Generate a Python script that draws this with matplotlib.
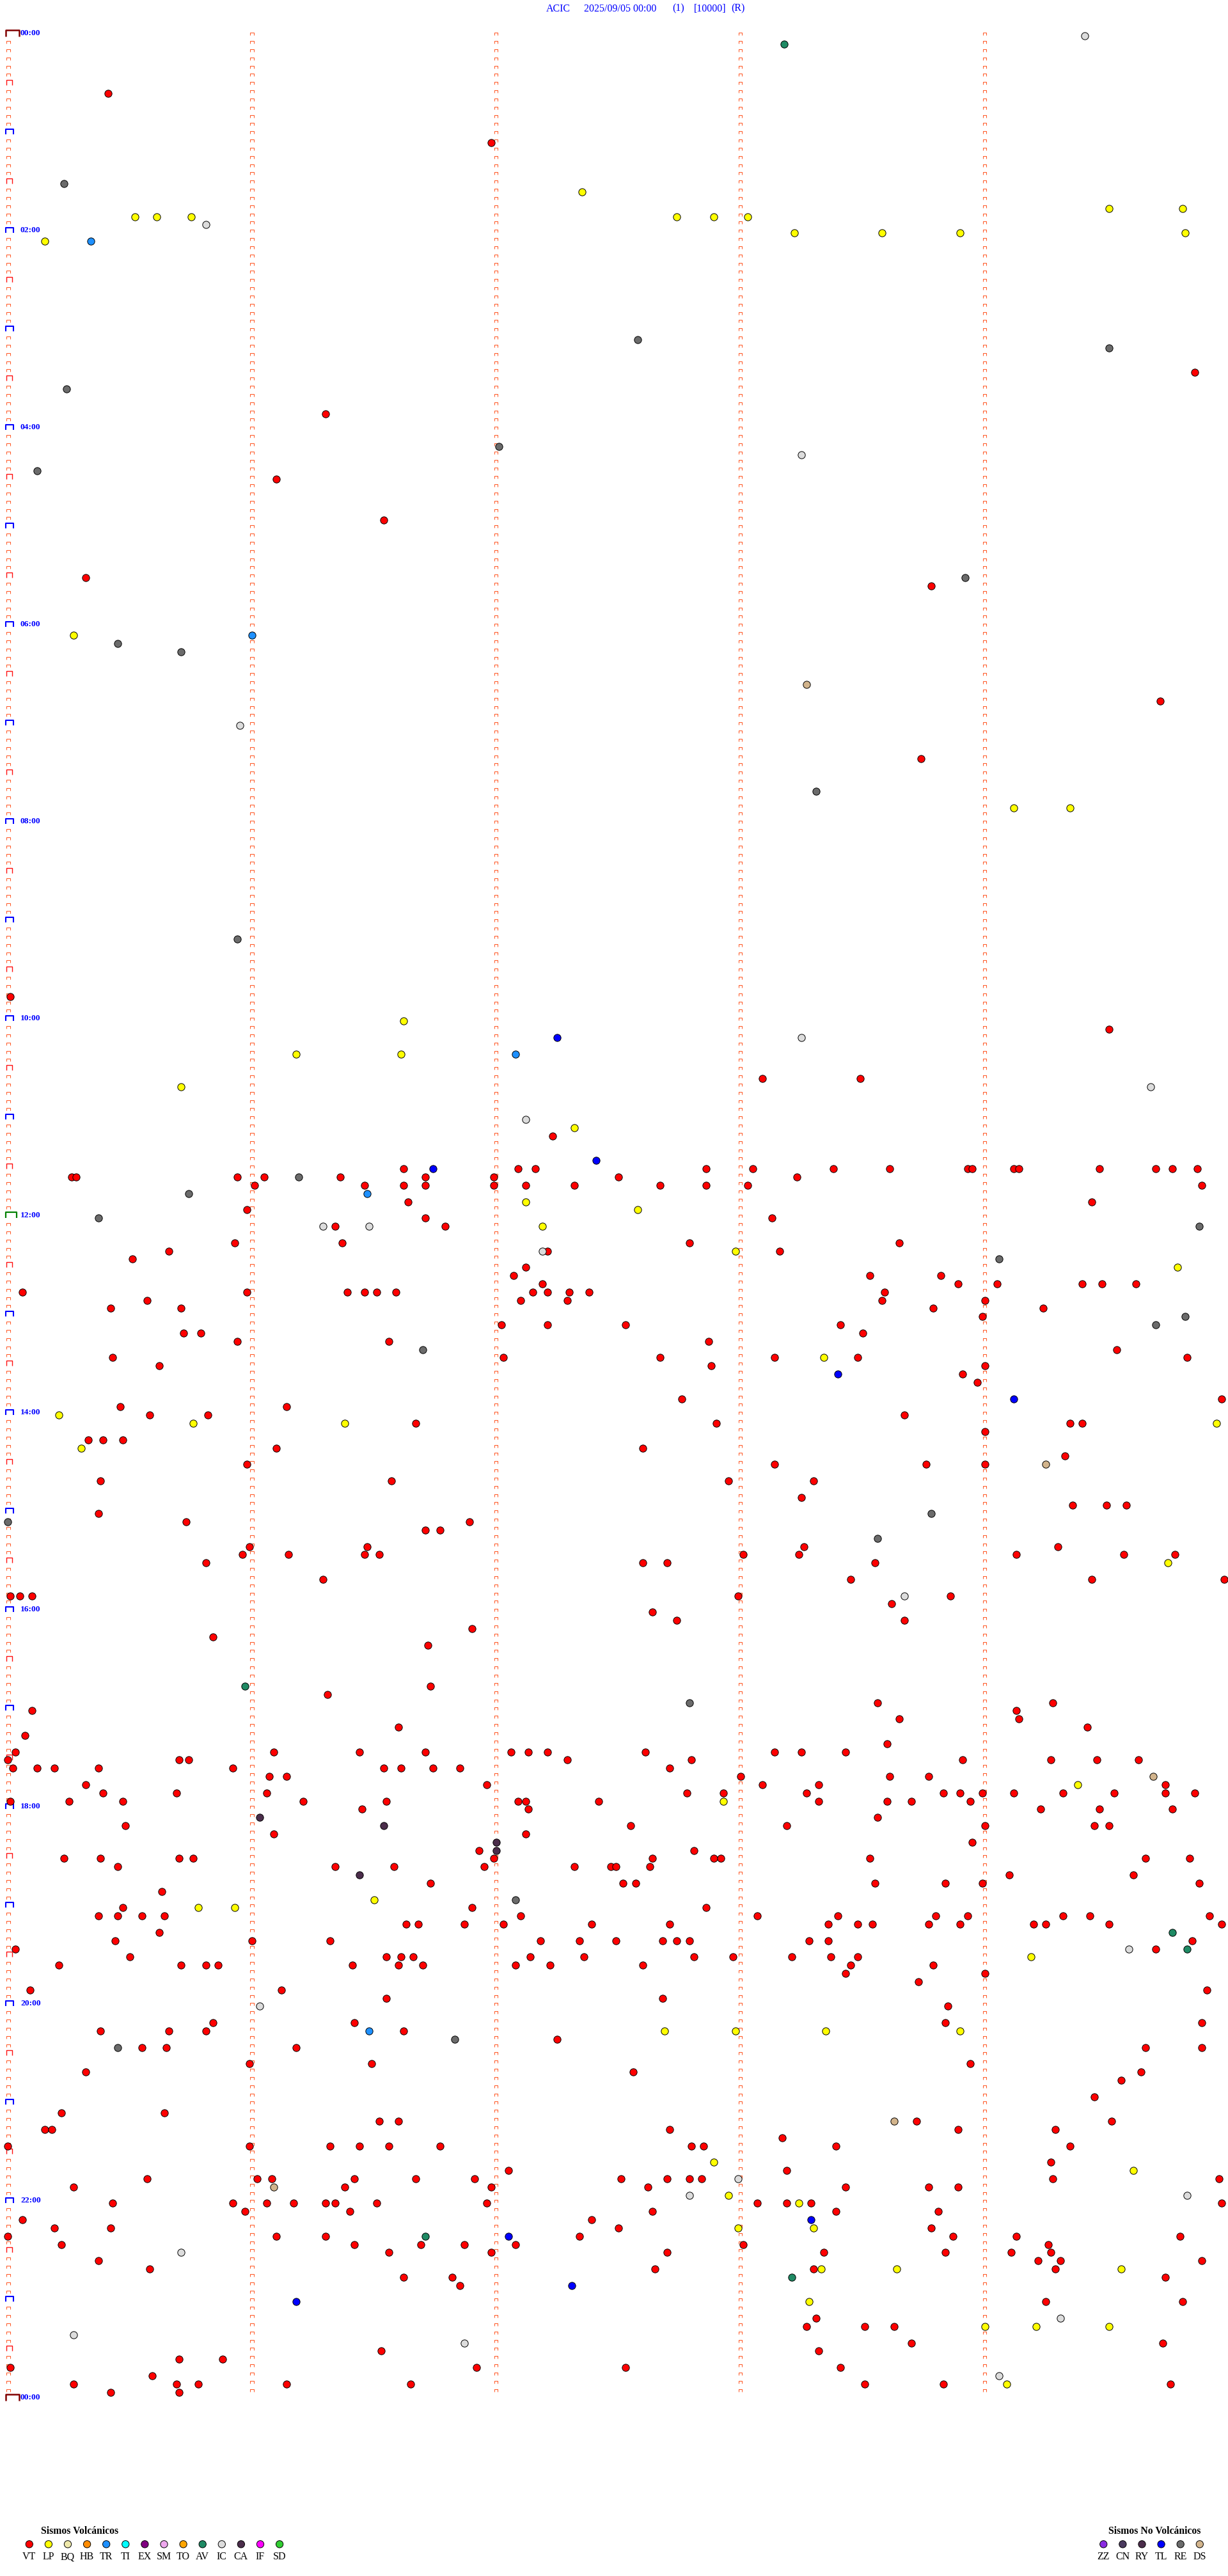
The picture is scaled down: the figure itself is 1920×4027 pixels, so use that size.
import numpy as np
import matplotlib.pyplot as plt
from matplotlib.collections import LineCollection

# Event times in minutes after 00:00 (each drum line holds 5 minutes)
vt = [35.41, 66.98, 209.86, 231.30, 271.10, 296.54, 330.32, 338.78, 409.72, 443.74,
      585.01, 609.51, 638.09, 638.49, 672.23,
      691.62, 692.09, 692.16, 692.86, 693.05, 693.38, 693.61, 693.93, 693.95, 694.12, 694.14, 694.47, 694.70, 694.77, 694.87,
      695.26, 695.28, 695.94, 696.05, 696.36, 696.71, 696.99, 697.50, 698.23,
      701.01, 701.46, 701.62, 701.71, 701.99, 702.12, 702.32, 702.67, 702.86, 703.03, 704.89,
      711.64, 714.44, 715.98, 721.71, 723.13, 726.34, 726.79,
      735.93, 736.37, 737.79, 738.65, 740.66, 742.21, 743.16, 745.51, 752.12,
      757.07, 758.53, 758.82, 762.19, 763.89, 764.05, 764.40, 764.48, 764.62,
      765.06, 765.98, 766.39, 766.46, 766.51, 766.59, 767.15, 767.21, 767.30, 767.38, 768.59,
      770.57, 772.10, 772.29, 773.58, 774.00, 775.42, 775.71, 778.79, 779.24, 783.99,
      787.02, 787.21, 787.53, 788.41, 790.72, 790.79, 793.50, 795.94, 796.56, 797.87, 804.54,
      805.43, 807.03, 807.67, 808.14, 808.48, 809.83, 810.62, 812.88, 814.00, 818.91, 823.97,
      832.76, 834.97, 835.46, 836.14, 840.58, 840.82, 843.67, 846.67, 847.90, 849.35, 849.40,
      854.00, 855.33, 855.39, 855.47, 861.10, 862.60, 869.33, 870.98, 873.14, 873.76, 874.00,
      880.38, 881.57, 882.95, 883.30, 893.25, 899.36, 899.50, 899.58, 900.37, 905.73, 906.89,
      911.71, 911.77, 920.99, 921.47, 923.26, 924.30,
      925.96, 926.15, 926.46, 926.52, 928.01, 928.24, 929.13, 929.57, 929.78,
      930.81, 932.60, 932.70, 933.55, 941.29, 943.45, 944.44, 944.98,
      950.01, 950.05, 950.10, 952.99, 953.86, 958.62, 962.64, 967.74, 968.67, 971.90, 975.84, 981.72,
      1006.73, 1011.31, 1018.56, 1019.28, 1020.10, 1024.13, 1028.65, 1029.14, 1031.60, 1034.42, 1035.07, 1043.60,
      1045.03, 1046.09, 1046.44, 1046.71, 1047.06, 1047.13, 1047.21, 1047.61, 1048.14, 1048.25, 1048.43,
      1050.00, 1050.70, 1050.74, 1052.29, 1052.80, 1053.91, 1054.27, 1054.46, 1054.63,
      1055.02, 1055.12, 1055.19, 1055.37, 1055.92, 1056.54, 1056.61, 1056.74, 1056.85, 1057.71,
      1061.07, 1061.14, 1063.00, 1063.61, 1063.77,
      1065.32, 1066.96, 1068.09, 1068.32, 1069.74,
      1070.39, 1070.69, 1071.06, 1072.78, 1072.93, 1073.27, 1073.83, 1073.90, 1073.99, 1074.12, 1074.32, 1074.53, 1074.74, 1074.86,
      1075.01, 1075.25, 1075.47, 1076.21, 1076.55, 1077.09, 1077.12, 1077.42, 1078.32, 1078.60, 1078.70, 1078.94,
      1081.45, 1082.13, 1084.23, 1084.47, 1084.77, 1088.56,
      1090.48, 1092.55, 1093.19, 1094.00, 1094.45, 1094.51, 1096.09, 1097.12, 1103.95, 1106.93, 1107.81,
      1110.23, 1110.38, 1110.70, 1110.76, 1111.99, 1112.64, 1112.89, 1112.92, 1113.53, 1114.66, 1114.84,
      1115.45, 1116.34, 1116.58, 1116.95, 1117.32, 1117.47, 1117.49, 1117.63, 1124.10, 1124.61,
      1126.73, 1127.52, 1127.57, 1128.55, 1128.84, 1128.99, 1129.88, 1130.63,
      1140.47, 1141.90, 1142.86,
      1145.37, 1145.45, 1145.55, 1145.64, 1147.10, 1148.07, 1148.40, 1148.80, 1148.93, 1149.32, 1149.43, 1149.92,
      1151.63, 1151.68, 1151.87, 1152.03, 1152.39, 1152.71, 1153.36, 1153.48, 1153.54, 1153.77, 1153.90, 1154.20, 1154.25, 1154.51, 1154.97,
      1155.62, 1160.44, 1161.00, 1161.32, 1162.18, 1162.34, 1162.49, 1162.68, 1162.74, 1162.79, 1163.28, 1163.36, 1164.85,
      1165.03, 1169.70,
      1170.50, 1171.55, 1171.61, 1171.66, 1172.14, 1172.36, 1172.81, 1172.97, 1173.21, 1173.37, 1173.48,
      1175.21, 1175.71, 1175.81, 1175.86, 1176.41, 1176.60, 1176.70, 1177.08, 1177.22, 1177.60, 1178.45, 1178.79,
      1183.43, 1184.00, 1188.73, 1190.09, 1191.12, 1194.91, 1196.55, 1197.68, 1203.85,
      1210.84, 1211.42, 1213.84, 1214.89, 1215.38, 1215.66, 1215.81, 1216.62, 1222.25,
      1225.55, 1225.65, 1226.18, 1229.66, 1229.89, 1235.99, 1236.49, 1238.94, 1240.32, 1242.56, 1244.64, 1249.56, 1259.45,
      1265.22, 1265.64, 1271.52, 1271.60, 1273.72, 1274.52, 1275.15, 1275.18, 1277.71, 1278.89, 1279.29, 1283.17,
      1285.00, 1285.99, 1286.32, 1286.44, 1286.56, 1286.77, 1287.80, 1287.85, 1288.39, 1289.35, 1299.27, 1302.05, 1303.19,
      1305.57, 1306.02, 1306.08, 1306.42, 1306.67, 1306.91, 1307.51, 1307.70, 1307.79, 1307.84, 1309.28, 1309.96,
      1310.27, 1311.38, 1311.98, 1312.62, 1313.43, 1313.77, 1313.89,
      1320.43, 1320.92, 1321.06, 1321.17, 1321.30, 1321.34, 1321.51, 1321.96, 1323.07, 1323.19, 1323.29, 1324.97,
      1325.97, 1326.40, 1327.64, 1328.39, 1328.81, 1330.06, 1332.39, 1335.19, 1335.42, 1337.50, 1338.78,
      1340.00, 1341.10, 1341.30, 1342.34, 1343.87, 1344.13, 1344.80,
      1345.22, 1346.42, 1346.69, 1346.87, 1347.08, 1348.01, 1349.26,
      1351.56, 1351.98, 1352.70, 1353.34, 1353.84, 1354.11, 1354.27, 1355.37, 1359.22, 1359.31, 1359.89,
      1360.58, 1362.65, 1363.30, 1364.29, 1366.62, 1366.82, 1369.74, 1371.85, 1384.25, 1384.81, 1393.31,
      1398.27, 1398.51, 1398.63, 1408.70, 1409.73, 1411.53, 1413.32, 1415.70, 1415.88,
      1420.01, 1421.92, 1422.53, 1423.41, 1425.59,
      1430.27, 1430.69, 1430.78, 1431.14, 1431.65, 1433.51, 1433.83, 1434.76, 1435.42, 1435.70]
lp = [97.35, 109.51, 109.81, 110.52, 110.61, 110.75, 112.74, 112.89, 113.03, 123.22, 123.58, 123.90,
      124.82, 125.15, 365.27, 474.12, 474.35, 601.62, 621.18, 621.61, 640.71, 667.32, 712.12, 717.58,
      727.19, 742.98, 754.79, 808.34, 840.21, 845.76, 846.38, 849.95, 860.30, 934.75, 1069.38, 1077.93,
      1136.50, 1140.78, 1140.93, 1174.19, 1217.69, 1217.98, 1218.35, 1218.90, 1297.89, 1304.61, 1317.95,
      1323.24, 1337.99, 1338.30, 1363.33, 1363.64, 1364.56, 1383.28, 1399.00, 1399.21, 1399.51, 1434.09]
tr = [125.34, 366.00, 622.08, 706.47, 1216.48]
av = [8.18, 1005.97, 1159.77, 1169.83, 1341.71, 1368.21]
ic = [4.41, 115.81, 258.25, 420.95, 613.25, 644.68, 662.12, 726.29, 726.48, 742.19, 953.67, 1169.59,
      1201.03, 1307.99, 1317.79, 1319.83, 1350.71, 1394.31, 1400.27, 1406.87, 1429.06]
ca = [1086.03, 1091.54, 1102.00, 1107.00, 1121.44]
tl = [612.25, 687.41, 691.74, 818.40, 834.12, 1333.29, 1342.05, 1372.31, 1381.18]
re = [90.23, 187.58, 194.51, 215.24, 252.01, 265.12, 333.92, 370.45, 375.71, 463.31, 550.94, 696.19,
      705.74, 720.37, 729.88, 749.06, 784.82, 789.70, 801.70, 903.78, 905.00, 918.56, 1017.79, 1137.08,
      1221.83, 1225.45]
ds = [398.27, 874.25, 1064.69, 1273.63, 1311.09]

volc_codes = ['VT', 'LP', 'BQ', 'HB', 'TR', 'TI', 'EX', 'SM', 'TO', 'AV', 'IC', 'CA', 'IF', 'SD']
volc_colors = ['#FF0000', '#FFFF00', '#EEE8AA', '#FF8C00', '#1E90FF', '#00FFFF', '#800080',
               '#EEA8EE', '#FFA500', '#1F8A64', '#DCDCDC', '#4B2D4B', '#FF00FF', '#32CD32']
nonv_codes = ['ZZ', 'CN', 'RY', 'TL', 'RE', 'DS']
nonv_colors = ['#8A2BE2', '#4A3A5E', '#4B2D4B', '#0000FF', '#6B6B6B', '#D2B48C']
colors = dict(zip(volc_codes + nonv_codes, volc_colors + nonv_colors))

events = [('VT', vt), ('LP', lp), ('TR', tr), ('AV', av), ('IC', ic), ('CA', ca),
          ('TL', tl), ('RE', re), ('DS', ds)]

W, H = 1920, 4027
X0, PXM = 12.3, 381.8    # pixel of minute 0, pixels per minute
Y0, PXR = 56.2, 12.834   # pixel of line 0, pixels per line
n_lines = 288
serif = 'Liberation Serif'

fig = plt.figure(figsize=(W / 100, H / 100), dpi=100)
ax = fig.add_axes([0, 0, 1, 1])
ax.set_xlim(-X0 / PXM, (W - X0) / PXM)
ax.set_ylim((H - Y0) / PXR, -Y0 / PXR)
ax.axis('off')


def cap(k, col, left, right, top, bot):
    # small "⊓" shape, offsets given in pixels
    xl, xr = col + left / PXM, col + right / PXM
    yt, yb = k + top / PXR, k + bot / PXR
    return [(xl, yb), (xl, yt), (xr, yt), (xr, yb)]


small = []
for k in range(n_lines):
    for col in range(1, 5):
        small.append(cap(k, col, -3, 2.5, -5, -1))
    if k % 6 != 0:
        small.append(cap(k, 0, -2.3, 3.4, -5, -1))
ax.add_collection(LineCollection(small, colors='#FF5A28', linewidths=0.75))

half = [cap(k, 0, -2.3, 6.7, -8, 0) for k in range(6, n_lines, 12)]
ax.add_collection(LineCollection(half, colors='#FF1010', linewidths=1.0))
hours = [cap(k, 0, -3.3, 8.4, -8, -0.5) for k in range(12, n_lines, 12) if k != 144]
ax.add_collection(LineCollection(hours, colors='#0000FF', linewidths=1.5))
ax.add_collection(LineCollection([cap(144, 0, -3, 13.4, -9.5, 0)], colors='#008000', linewidths=1.6))
ax.add_collection(LineCollection([cap(0, 0, -3.3, 17.7, -9.5, 0.5), cap(n_lines, 0, -3.3, 17.7, -9.5, 0.5)],
                                 colors='#800000', linewidths=1.8))

for k in range(0, n_lines + 1, 24):
    ax.text((32 - X0) / PXM, k - 4.5 / PXR, f'{(k // 12) % 24:02d}:00', color='#0000FF',
            fontsize=9.7, fontweight='bold', family=serif, ha='left', va='center')

for code, times in events:
    t = np.array(times)
    line = np.floor(t / 5)
    ax.scatter(t - 5 * line, line, s=66, c=colors[code], edgecolors='black',
               linewidths=0.7, zorder=3)

# header and legends in pixel coordinates
deco = fig.add_axes([0, 0, 1, 1], facecolor='none')
deco.set_xlim(0, W)
deco.set_ylim(H, 0)
deco.axis('off')

for x, s in [(854, 'ACIC'), (913, '2025/09/05 00:00'), (1051, '(1)'), (1085, '[10000]'), (1143, '(R)')]:
    deco.text(x, 13.5, s, color='#0000FF', fontsize=11.5, family=serif, ha='left', va='center')

deco.text(63.5, 3957, 'Sismos Volcánicos', fontsize=11.3, fontweight='bold', family=serif,
          ha='left', va='center')
deco.text(1733, 3957, 'Sismos No Volcánicos', fontsize=11.3, fontweight='bold', family=serif,
          ha='left', va='center')

for x_start, codes in [(45.8, volc_codes), (1725.3, nonv_codes)]:
    xs = x_start + 30.1 * np.arange(len(codes))
    deco.scatter(xs, np.full(len(codes), 3977.3), s=66, c=[colors[c] for c in codes],
                 edgecolors='black', linewidths=0.7)
    for x, c in zip(xs, codes):
        deco.text(x, 3997, c, fontsize=11.5, family=serif, ha='center', va='center')

fig.savefig('out.png', dpi=100)
